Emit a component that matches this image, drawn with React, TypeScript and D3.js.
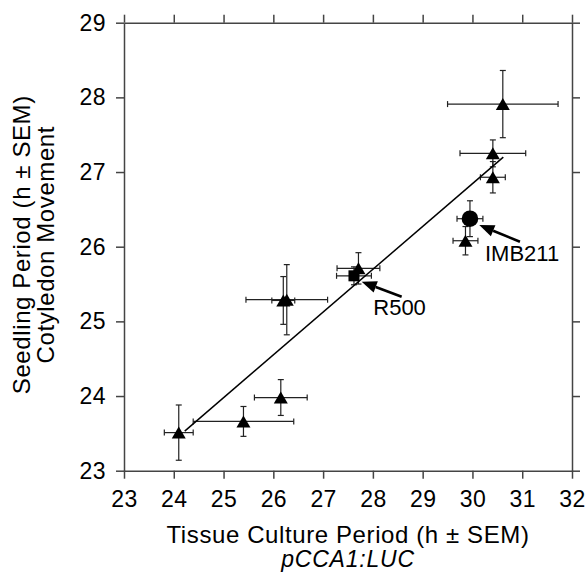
import React, { useEffect, useRef } from "react";
import * as d3 from "d3";

const xTicks = [23, 24, 25, 26, 27, 28, 29, 30, 31, 32];
const yTicks = [23, 24, 25, 26, 27, 28, 29];

const pointX = [24.1, 25.4, 26.15, 26.2, 26.27, 27.71, 27.62, 29.86, 29.95, 30.41, 30.41, 30.61];
const pointY = [23.51, 23.66, 23.98, 25.28, 25.29, 25.71, 25.61, 26.08, 26.375, 26.93, 27.25, 27.91];
const pointXErr = [0.29, 1.01, 0.53, 0.23, 0.82, 0.43, 0.35, 0.25, 0.26, 0.25, 0.66, 1.11];
const pointYErr = [0.37, 0.2, 0.24, 0.32, 0.47, 0.21, 0.12, 0.19, 0.24, 0.21, 0.18, 0.45];
const pointShape = ["tri", "tri", "tri", "tri", "tri", "tri", "square", "tri", "circle", "tri", "tri", "tri"];

const fitX = [24.22, 30.62];
const fitY = [23.53, 27.2];

const annLabels = ["R500", "IMB211"];
const annPointIndex = [6, 8];

const FONT = "'Liberation Sans', Arial, Helvetica, sans-serif";

export default function App() {
  const axRef = useRef<SVGGElement>(null);
  const W = 588, H = 576;
  const x = d3.scaleLinear().domain([23, 32]).range([124, 572]);
  const y = d3.scaleLinear().domain([23, 29]).range([470.7, 22.7]);

  useEffect(() => {
    const g = d3.select(axRef.current);
    g.selectAll("*").remove();
    const style = (sel: any) => {
      sel.selectAll("path.domain").attr("stroke", "#444").attr("stroke-width", 1.5);
      sel.selectAll(".tick line").attr("stroke", "#444").attr("stroke-width", 1.5);
      sel.selectAll(".tick text").attr("fill", "#000").style("font-size", "23px").style("font-family", FONT).style("letter-spacing", "0.4px");
    };
    g.append("g").attr("transform", `translate(0,${y(23)})`)
      .call(d3.axisBottom(x).tickValues(xTicks).tickSize(8).tickSizeOuter(0).tickPadding(12).tickFormat(d3.format("d")))
      .call(style);
    g.append("g").attr("transform", `translate(0,${y(29)})`)
      .call(d3.axisTop(x).tickValues(xTicks).tickSize(8).tickSizeOuter(0).tickFormat(() => ""))
      .call(style);
    g.append("g").attr("transform", `translate(${x(23)},0)`)
      .call(d3.axisLeft(y).tickValues(yTicks).tickSize(8).tickSizeOuter(0).tickPadding(10).tickFormat(d3.format("d")))
      .call(style);
    g.append("g").attr("transform", `translate(${x(32)},0)`)
      .call(d3.axisRight(y).tickValues(yTicks).tickSize(8).tickSizeOuter(0).tickFormat(() => ""))
      .call(style);
  }, []);

  const cap = 3;
  const line = d3.line<number>().x((_, i) => x(fitX[i])).y((d) => y(d));

  const arrow = (px: number, py: number, tx: number, ty: number, key: string) => {
    const ang = Math.atan2(py - ty, px - tx);
    const L = 15, hw = 6;
    const bx = px - L * Math.cos(ang), by = py - L * Math.sin(ang);
    const nx = -Math.sin(ang), ny = Math.cos(ang);
    return (
      <g key={key}>
        <line x1={tx} y1={ty} x2={bx} y2={by} stroke="#000" strokeWidth={2.6} />
        <polygon points={`${px},${py} ${bx + nx * hw},${by + ny * hw} ${bx - nx * hw},${by - ny * hw}`} fill="#000" />
      </g>
    );
  };

  const annOffsets = [
    { tip: [7.7, 5.9], tail: [47.7, 20.9], text: [19.3, 39] },
    { tip: [9.3, 6.3], tail: [50, 23], text: [15, 42] },
  ];

  const cy0 = (y(23) + y(29)) / 2 - 2;

  return (
    <svg width={W} height={H} style={{ position: "absolute", left: 0, top: 0, background: "#fff" }} fontFamily={FONT}>
      <rect x={0} y={0} width={W} height={H} fill="#fff" />
      <g ref={axRef} />
      {pointX.map((px, i) => {
        const cx = x(px), cy = y(pointY[i]);
        const x0 = x(px - pointXErr[i]), x1 = x(px + pointXErr[i]);
        const y0 = y(pointY[i] - pointYErr[i]), y1 = y(pointY[i] + pointYErr[i]);
        return (
          <g key={"e" + i} stroke="#222" strokeWidth={1.2}>
            <line x1={x0} x2={x1} y1={cy} y2={cy} />
            <line x1={x0} x2={x0} y1={cy - cap} y2={cy + cap} />
            <line x1={x1} x2={x1} y1={cy - cap} y2={cy + cap} />
            <line x1={cx} x2={cx} y1={y0} y2={y1} />
            <line x1={cx - cap} x2={cx + cap} y1={y0} y2={y0} />
            <line x1={cx - cap} x2={cx + cap} y1={y1} y2={y1} />
          </g>
        );
      })}
      <path d={line(fitY) || ""} fill="none" stroke="#000" strokeWidth={1.5} />
      {pointX.map((px, i) => {
        const cx = x(px), cy = y(pointY[i]);
        const s = pointShape[i];
        if (s === "circle") return <circle key={"m" + i} cx={cx} cy={cy} r={8.3} fill="#000" />;
        if (s === "square") return <rect key={"m" + i} x={cx - 5.5} y={cy - 5.5} width={11} height={11} fill="#000" />;
        return <polygon key={"m" + i} points={`${cx},${cy - 6} ${cx - 7},${cy + 6} ${cx + 7},${cy + 6}`} fill="#000" />;
      })}
      {annLabels.map((lab, k) => {
        const i = annPointIndex[k];
        const cx = x(pointX[i]), cy = y(pointY[i]);
        const o = annOffsets[k];
        return (
          <g key={"a" + k}>
            {arrow(cx + o.tip[0], cy + o.tip[1], cx + o.tail[0], cy + o.tail[1], "ar" + k)}
            <text x={cx + o.text[0]} y={cy + o.text[1]} fontSize={22} fill="#000">{lab}</text>
          </g>
        );
      })}
      <text x={(x(23) + x(32)) / 2} y={543} textAnchor="middle" fontSize={24} letterSpacing={0.6} fill="#000">Tissue Culture Period (h ± SEM)</text>
      <text x={(x(23) + x(32)) / 2} y={567} textAnchor="middle" fontSize={23} letterSpacing={0.8} fontStyle="italic" fill="#000">pCCA1:LUC</text>
      <g transform={`translate(30,${cy0}) rotate(-90)`}>
        <text x={0} y={0} textAnchor="middle" fontSize={24} letterSpacing={0.6} fill="#000">Seedling Period (h ± SEM)</text>
      </g>
      <g transform={`translate(54,${cy0}) rotate(-90)`}>
        <text x={0} y={0} textAnchor="middle" fontSize={24} letterSpacing={0.6} fill="#000">Cotyledon Movement</text>
      </g>
    </svg>
  );
}
